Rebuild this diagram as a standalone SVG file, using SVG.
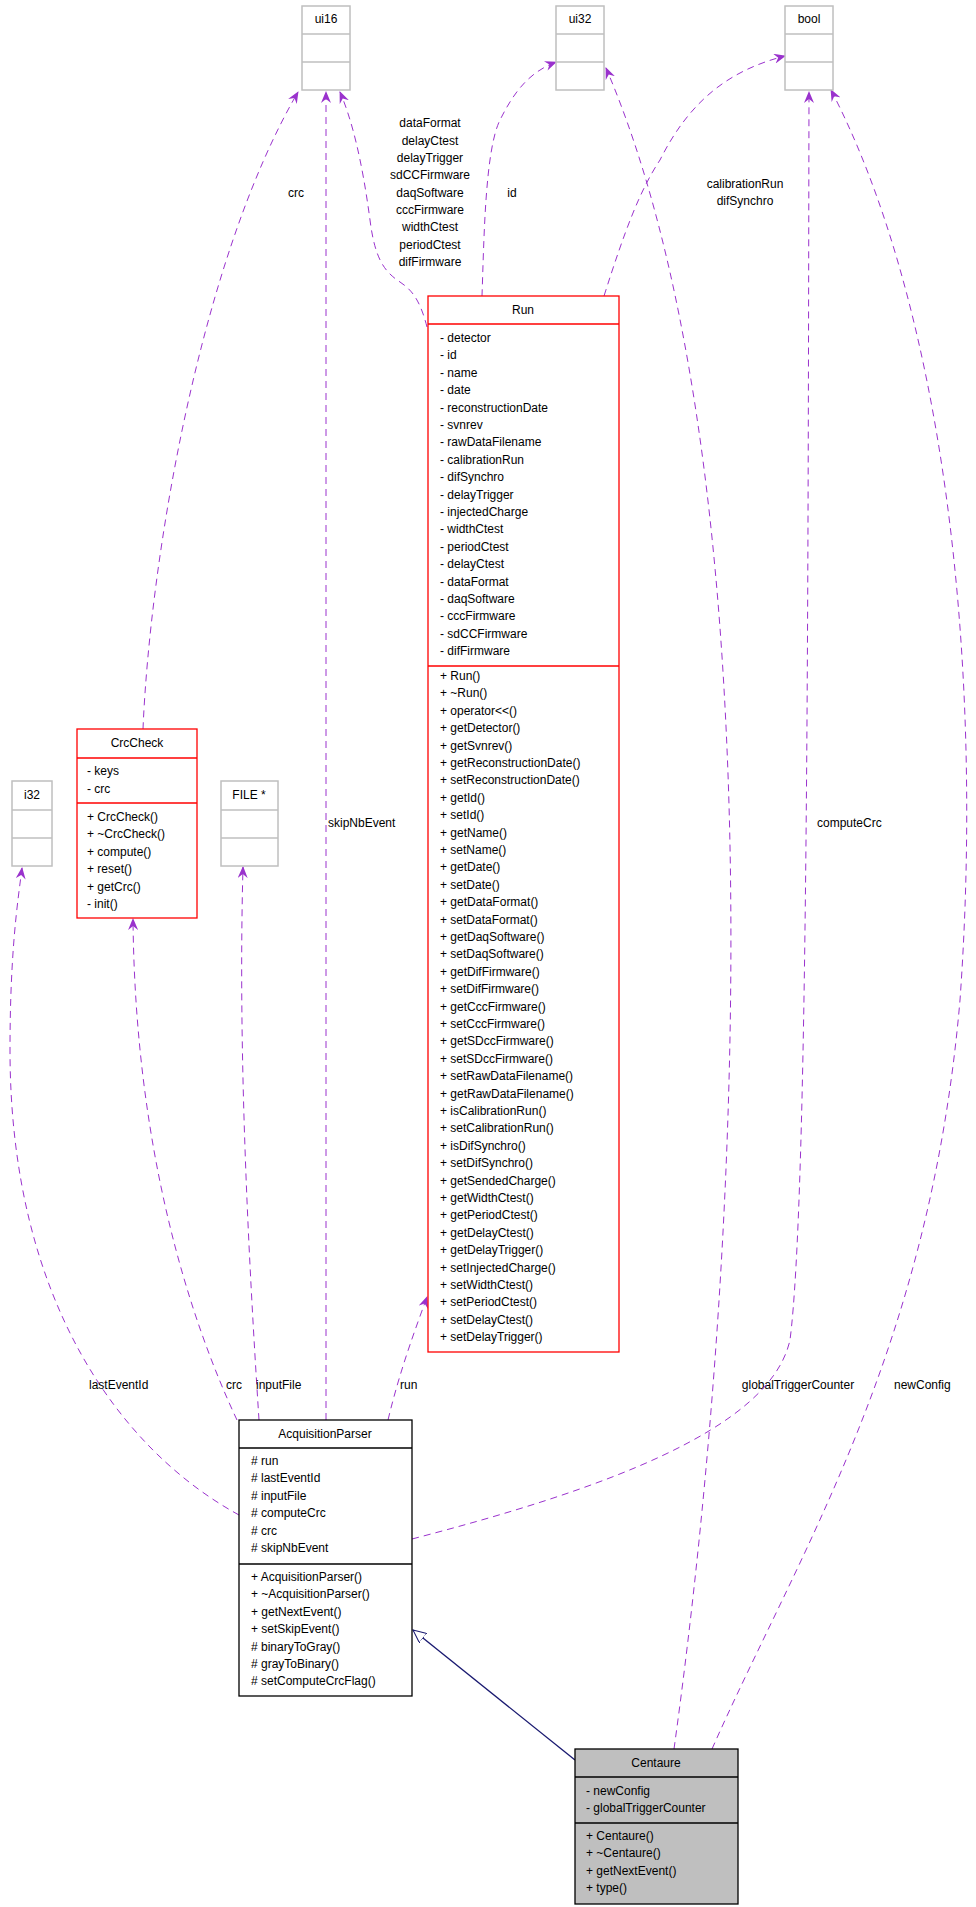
<svg xmlns="http://www.w3.org/2000/svg" width="976" height="1907" viewBox="0 0 976 1907">
<style>
text{font-family:"Liberation Sans",Arial,sans-serif;font-size:12px;fill:#000}
.c{text-anchor:middle}
.e{fill:none;stroke:#9a32cd;stroke-dasharray:7,5}
.g{fill:#fff;stroke:#bfbfbf;stroke-width:1.5}
.r{fill:#fff;stroke:#ff0000;stroke-width:1.3}
.k{fill:#fff;stroke:#000;stroke-width:1.3}
.s{fill:#bfbfbf;stroke:#000;stroke-width:1.3}
</style>
<defs>
<marker id="a" viewBox="0 0 12 10" refX="11" refY="5" markerWidth="12" markerHeight="10" markerUnits="userSpaceOnUse" orient="auto">
<path d="M0,0 L12,5 L0,10 L4,5 z" fill="#9a32cd"/>
</marker>
<marker id="t" viewBox="0 0 14 12" refX="13" refY="6" markerWidth="14" markerHeight="12" markerUnits="userSpaceOnUse" orient="auto">
<path d="M0,0 L13,6 L0,12 z" fill="#fff" stroke="#191970"/>
</marker>
</defs>
<g id="connectors">
<path class="e" marker-end="url(#a)" d="M143,729 C150,560 200,260 298,92"/>
<text x="296" y="197" class="c">crc</text>
<path class="e" marker-end="url(#a)" d="M326,1420 L326,92"/>
<text x="328" y="827">skipNbEvent</text>
<path class="e" marker-end="url(#a)" d="M427,327 C420,300 412,290 400,282 C385,272 375,260 370,220 C362,160 352,120 340,92"/>
<g class="c"><text x="430" y="127">dataFormat</text><text x="430" y="145">delayCtest</text><text x="430" y="162">delayTrigger</text><text x="430" y="179">sdCCFirmware</text><text x="430" y="197">daqSoftware</text><text x="430" y="214">cccFirmware</text><text x="430" y="231">widthCtest</text><text x="430" y="249">periodCtest</text><text x="430" y="266">difFirmware</text></g>
<path class="e" marker-end="url(#a)" d="M482,296 C484,240 485,150 500,120 C515,90 530,72 556,62"/>
<text x="512" y="197" class="c">id</text>
<path class="e" marker-end="url(#a)" d="M604,296 C625,230 640,190 660,160 C690,100 730,70 785,56"/>
<text x="745" y="188" class="c">calibrationRun</text><text x="745" y="205" class="c">difSynchro</text>
<path class="e" marker-end="url(#a)" d="M674,1749 C750,1200 770,450 606,68"/>
<text x="798" y="1389" class="c">globalTriggerCounter</text>
<path class="e" marker-end="url(#a)" d="M412,1539 C600,1490 770,1430 790,1340 C808,1200 808,600 809,92"/>
<text x="817" y="827">computeCrc</text>
<path class="e" marker-end="url(#a)" d="M712,1749 C800,1550 930,1350 960,1000 C985,650 940,300 831,90"/>
<text x="894" y="1389">newConfig</text>
<path class="e" marker-end="url(#a)" d="M239,1515 C120,1450 10,1300 10,1050 C10,950 18,900 22,868"/>
<text x="89" y="1389">lastEventId</text>
<path class="e" marker-end="url(#a)" d="M237,1420 C190,1320 135,1150 133,919"/>
<text x="226" y="1389">crc</text>
<path class="e" marker-end="url(#a)" d="M259,1420 C248,1250 238,1050 243,867"/>
<text x="256" y="1389">inputFile</text>
<path class="e" marker-end="url(#a)" d="M388,1420 C400,1370 415,1330 427,1297"/>
<text x="400" y="1389">run</text>
<path fill="none" stroke="#191970" stroke-width="1.3" marker-end="url(#t)" d="M575,1760 L413,1630"/>
</g>
<g id="ui16"><rect class="g" x="302" y="6" width="48" height="84"/><line class="g" x1="302" y1="34" x2="350" y2="34"/><line class="g" x1="302" y1="62" x2="350" y2="62"/><text x="326" y="23" class="c">ui16</text></g>
<g id="ui32"><rect class="g" x="556" y="6" width="48" height="84"/><line class="g" x1="556" y1="34" x2="604" y2="34"/><line class="g" x1="556" y1="62" x2="604" y2="62"/><text x="580" y="23" class="c">ui32</text></g>
<g id="bool"><rect class="g" x="785" y="6" width="48" height="84"/><line class="g" x1="785" y1="34" x2="833" y2="34"/><line class="g" x1="785" y1="62" x2="833" y2="62"/><text x="809" y="23" class="c">bool</text></g>
<g id="i32"><rect class="g" x="12" y="781" width="40" height="85"/><line class="g" x1="12" y1="810" x2="52" y2="810"/><line class="g" x1="12" y1="838" x2="52" y2="838"/><text x="32" y="799" class="c">i32</text></g>
<g id="FILE"><rect class="g" x="221" y="781" width="57" height="85"/><line class="g" x1="221" y1="810" x2="278" y2="810"/><line class="g" x1="221" y1="838" x2="278" y2="838"/><text x="249" y="799" class="c">FILE *</text></g>
<g id="CrcCheck"><rect class="r" x="77" y="729" width="120" height="189"/><line class="r" x1="77" y1="758" x2="197" y2="758"/><line class="r" x1="77" y1="803" x2="197" y2="803"/>
<text x="137" y="747" class="c">CrcCheck</text>
<text x="87" y="775">- keys</text><text x="87" y="793">- crc</text>
<text x="87" y="821">+ CrcCheck()</text><text x="87" y="838">+ ~CrcCheck()</text><text x="87" y="856">+ compute()</text><text x="87" y="873">+ reset()</text><text x="87" y="891">+ getCrc()</text><text x="87" y="908">- init()</text></g>
<g id="Run"><rect class="r" x="428" y="296" width="191" height="1056"/><line class="r" x1="428" y1="324" x2="619" y2="324"/><line class="r" x1="428" y1="666" x2="619" y2="666"/>
<text x="523" y="314" class="c">Run</text>
<g transform="translate(440,342)">
<text y="0">- detector</text><text y="17.4">- id</text><text y="34.8">- name</text><text y="52.2">- date</text><text y="69.6">- reconstructionDate</text><text y="87">- svnrev</text><text y="104.4">- rawDataFilename</text><text y="121.8">- calibrationRun</text><text y="139.2">- difSynchro</text><text y="156.6">- delayTrigger</text><text y="174">- injectedCharge</text><text y="191.4">- widthCtest</text><text y="208.8">- periodCtest</text><text y="226.2">- delayCtest</text><text y="243.6">- dataFormat</text><text y="261">- daqSoftware</text><text y="278.4">- cccFirmware</text><text y="295.8">- sdCCFirmware</text><text y="313.2">- difFirmware</text>
</g>
<g transform="translate(440,680)">
<text y="0">+ Run()</text><text y="17.4">+ ~Run()</text><text y="34.8">+ operator&lt;&lt;()</text><text y="52.2">+ getDetector()</text><text y="69.6">+ getSvnrev()</text><text y="87">+ getReconstructionDate()</text><text y="104.4">+ setReconstructionDate()</text><text y="121.8">+ getId()</text><text y="139.2">+ setId()</text><text y="156.6">+ getName()</text><text y="174">+ setName()</text><text y="191.4">+ getDate()</text><text y="208.8">+ setDate()</text><text y="226.2">+ getDataFormat()</text><text y="243.6">+ setDataFormat()</text><text y="261">+ getDaqSoftware()</text><text y="278.4">+ setDaqSoftware()</text><text y="295.8">+ getDifFirmware()</text><text y="313.2">+ setDifFirmware()</text><text y="330.6">+ getCccFirmware()</text><text y="348">+ setCccFirmware()</text><text y="365.4">+ getSDccFirmware()</text><text y="382.8">+ setSDccFirmware()</text><text y="400.2">+ setRawDataFilename()</text><text y="417.6">+ getRawDataFilename()</text><text y="435">+ isCalibrationRun()</text><text y="452.4">+ setCalibrationRun()</text><text y="469.8">+ isDifSynchro()</text><text y="487.2">+ setDifSynchro()</text><text y="504.6">+ getSendedCharge()</text><text y="522">+ getWidthCtest()</text><text y="539.4">+ getPeriodCtest()</text><text y="556.8">+ getDelayCtest()</text><text y="574.2">+ getDelayTrigger()</text><text y="591.6">+ setInjectedCharge()</text><text y="609">+ setWidthCtest()</text><text y="626.4">+ setPeriodCtest()</text><text y="643.8">+ setDelayCtest()</text><text y="661.2">+ setDelayTrigger()</text>
</g></g>
<g id="AcquisitionParser"><rect class="k" x="239" y="1420" width="173" height="276"/><line class="k" x1="239" y1="1448" x2="412" y2="1448"/><line class="k" x1="239" y1="1564" x2="412" y2="1564"/>
<text x="325" y="1438" class="c">AcquisitionParser</text>
<g transform="translate(251,1465)"><text y="0"># run</text><text y="17.4"># lastEventId</text><text y="34.8"># inputFile</text><text y="52.2"># computeCrc</text><text y="69.6"># crc</text><text y="87"># skipNbEvent</text></g>
<g transform="translate(251,1581)"><text y="0">+ AcquisitionParser()</text><text y="17.4">+ ~AcquisitionParser()</text><text y="34.8">+ getNextEvent()</text><text y="52.2">+ setSkipEvent()</text><text y="69.6"># binaryToGray()</text><text y="87"># grayToBinary()</text><text y="104.4"># setComputeCrcFlag()</text></g></g>
<g id="Centaure"><rect class="s" x="575" y="1749" width="163" height="155"/><line class="k" x1="575" y1="1777" x2="738" y2="1777"/><line class="k" x1="575" y1="1823" x2="738" y2="1823"/>
<text x="656" y="1767" class="c">Centaure</text>
<text x="586" y="1795">- newConfig</text><text x="586" y="1812">- globalTriggerCounter</text>
<text x="586" y="1840">+ Centaure()</text><text x="586" y="1857">+ ~Centaure()</text><text x="586" y="1875">+ getNextEvent()</text><text x="586" y="1892">+ type()</text></g>
</svg>
